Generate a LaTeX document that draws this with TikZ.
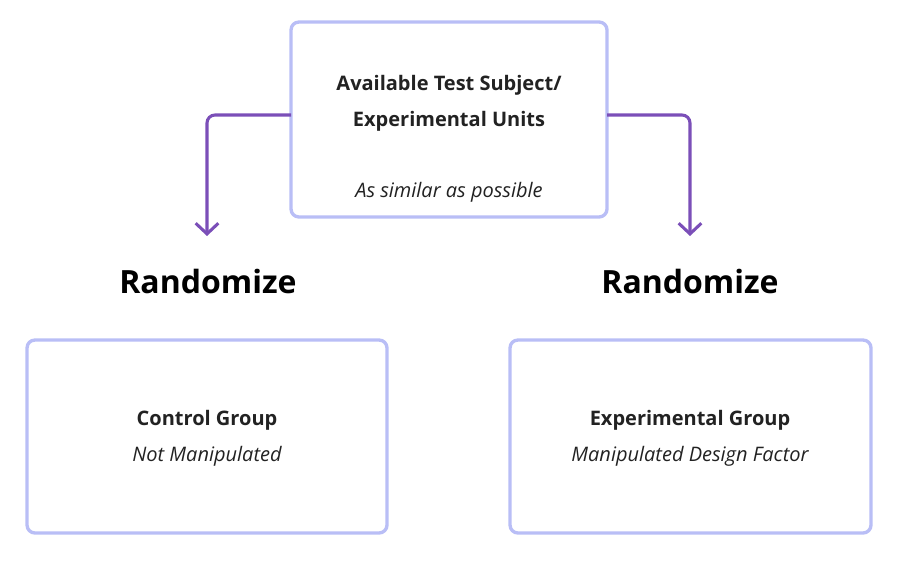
\documentclass[tikz,border=0pt]{standalone}
\usepackage{fontspec}
\setmainfont{Open Sans}
\usetikzlibrary{arrows.meta}
\definecolor{boxline}{HTML}{B9BEF6}
\definecolor{arrowline}{HTML}{7B4FB8}
\definecolor{textdark}{HTML}{222222}
\tikzset{
  groupbox/.style={draw=boxline, line width=2.5pt, rounded corners=6pt, fill=white},
  flowarrow/.style={draw=arrowline, line width=2.3pt, rounded corners=6pt, -{Straight Barb[length=8pt,width=17pt,line width=2.3pt]}},
  boldtext/.style={font=\fontsize{15}{18}\selectfont\bfseries, text=textdark},
  subtext/.style={font=\fontsize{15}{18}\selectfont\itshape, text=textdark},
  randtext/.style={font=\fontsize{24}{28}\selectfont\bfseries, text=black}
}
\begin{document}
\begin{tikzpicture}[x=0.75pt,y=-0.75pt]
        \useasboundingbox (0,0) rectangle (898,567);
        % Top box
        \draw[groupbox] (291,22) rectangle (607,217);
        \node (source) at (449,110) {};
        \coordinate (srcleft) at (291,115);
        \coordinate (srcright) at (607,115);
        \node[boldtext] (title1) at (449,85) {Available Test Subject/};
        \node[boldtext] (title2) at (449,121) {Experimental Units};
        \node[subtext] (similar) at (449,192) {As similar as possible};
        
        % Randomize labels
        \node[randtext] (randleft) at (208,281) {Randomize};
        \node[randtext] (randright) at (690,281) {Randomize};
        \coordinate (leftend) at (207,236);
        \coordinate (rightend) at (690,236);
        
        % Arrows
        \draw[flowarrow] (srcleft) -- (207,115) -- (leftend);
        \draw[flowarrow] (srcright) -- (690,115) -- (rightend);
        
        % Control group
        \draw[groupbox] (27,340) rectangle (387,533);
        \node[boldtext] (control) at (207,420) {Control Group};
        \node[subtext] (notmanip) at (207,456) {Not Manipulated};
        
        % Experimental group
        \draw[groupbox] (510,340) rectangle (871,533);
        \node[boldtext] (experimental) at (690,420) {Experimental Group};
        \node[subtext] (manip) at (690,456) {Manipulated Design Factor};
    \end{tikzpicture}
\end{document}
